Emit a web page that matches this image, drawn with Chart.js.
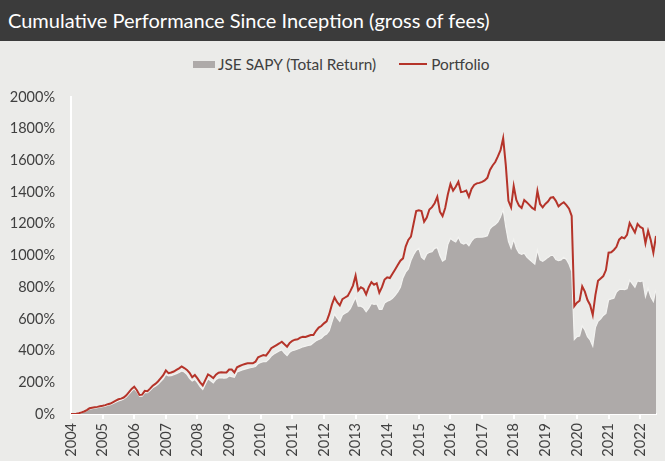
<!DOCTYPE html>
<html>
<head>
<meta charset="utf-8">
<script src="https://cdn.jsdelivr.net/npm/chart.js@4.4.1/dist/chart.umd.min.js"></script>
<style>
  body { margin: 0; width: 665px; height: 461px; background: #ebebe9; overflow: hidden; font-family: Lato, "Open Sans", sans-serif; }
  #title { position: absolute; left: 0; top: 0; width: 665px; height: 41px; background: #3b3b3b; color: #fff;
           font-size: 20px; line-height: 41px; padding-left: 8px; box-sizing: border-box; white-space: nowrap; }
  #legend { position: absolute; left: 193px; top: 55px; height: 18px; display: flex; align-items: center;
            font-size: 15.4px; color: #404040; white-space: nowrap; }
  #legend .box { width: 22px; height: 7px; background: #aeaaa9; margin-right: 3px; }
  #legend .line { width: 28px; height: 2px; background: #b5342a; margin-left: 23px; margin-right: 4px; }
  #wrap { position: absolute; left: 0; top: 41px; width: 665px; height: 420px; }
</style>
</head>
<body>
<div id="title">Cumulative Performance Since Inception (gross of fees)</div>
<div id="legend"></div>
<div id="wrap"><canvas id="chart"></canvas></div>
<script>
// monthly data, Jan 2004 .. Jul 2022, cumulative % return
const START_YEAR = 2004;
const yearTicks = [2004, 2005, 2006, 2007, 2008, 2009, 2010, 2011, 2012, 2013,
  2014, 2015, 2016, 2017, 2018, 2019, 2020, 2021, 2022];
const seriesNames = ["JSE SAPY (Total Return)", "Portfolio"];

const portfolio = [
  0, 0, 2, 5, 10, 16, 25, 36, 39, 42, 45, 49,                         // 2004
  52, 56, 62, 66, 75, 84, 93, 97, 104, 118, 138, 158,                 // 2005
  172, 150, 120, 122, 146, 144, 160, 178, 190, 205, 225, 245,         // 2006
  275, 258, 262, 268, 278, 288, 300, 290, 278, 260, 232, 246,         // 2007
  225, 200, 180, 215, 250, 240, 226, 248, 260, 263, 262, 262,         // 2008
  280, 280, 262, 295, 303, 310, 315, 320, 320, 320, 330, 358,         // 2009
  365, 372, 368, 390, 415, 425, 435, 445, 456, 440, 425, 448,         // 2010
  462, 469, 471, 482, 487, 486, 492, 498, 498, 525, 545, 555,         // 2011
  572, 585, 630, 690, 735, 705, 685, 725, 735, 745, 775, 810,         // 2012
  873, 780, 800, 790, 755, 800, 832, 815, 825, 765, 800, 848,         // 2013
  862, 858, 885, 912, 940, 967, 982, 1056, 1098, 1119, 1200, 1280,    // 2014
  1285, 1281, 1213, 1240, 1290, 1305, 1330, 1370, 1276, 1249, 1300, 1385, // 2015
  1451, 1409, 1434, 1465, 1400, 1403, 1410, 1370, 1420, 1445, 1455, 1458, // 2016
  1465, 1474, 1490, 1540, 1568, 1590, 1625, 1665, 1740, 1570, 1345, 1304, // 2017
  1438, 1350, 1315, 1300, 1350, 1335, 1318, 1300, 1290, 1407, 1325, 1304, // 2018
  1325, 1340, 1365, 1368, 1345, 1310, 1325, 1336, 1318, 1295, 1250, 680,  // 2019
  702, 715, 805, 772, 719, 688, 625, 750, 840, 855, 870, 908,         // 2020
  1018, 1020, 1035, 1055, 1100, 1115, 1108, 1130, 1205, 1175, 1145, 1199, // 2021
  1180, 1171, 1077, 1156, 1098, 1018, 1123                             // 2022
];

const sapy = [
  0, 0, 1, 4, 8, 13, 21, 31, 34, 37, 40, 43,                          // 2004
  46, 50, 55, 59, 67, 75, 83, 87, 94, 107, 125, 145,                  // 2005
  160, 140, 112, 112, 135, 135, 148, 165, 175, 188, 205, 222,         // 2006
  250, 240, 242, 248, 255, 262, 272, 265, 250, 225, 208, 218,         // 2007
  198, 172, 155, 190, 222, 210, 196, 218, 228, 230, 226, 228,         // 2008
  240, 236, 232, 265, 272, 278, 283, 288, 292, 295, 300, 318,         // 2009
  325, 330, 330, 345, 365, 378, 388, 398, 404, 385, 368, 390,         // 2010
  400, 404, 410, 416, 424, 428, 432, 436, 450, 462, 470, 478,         // 2011
  495, 505, 525, 580, 630, 605, 585, 625, 635, 645, 665, 700,         // 2012
  735, 680, 680, 670, 645, 668, 698, 692, 695, 660, 660, 700,         // 2013
  712, 718, 730, 748, 770, 800, 860, 895, 915, 968, 1005, 1032,       // 2014
  1045, 990, 975, 1010, 1020, 1024, 1045, 1050, 1000, 965, 975, 1070, // 2015
  1108, 1095, 1085, 1115, 1080, 1072, 1080, 1062, 1090, 1110, 1115, 1115, // 2016
  1116, 1119, 1125, 1168, 1185, 1195, 1212, 1245, 1290, 1180, 1090, 1045, // 2017
  1102, 1045, 1015, 1008, 1014, 990, 975, 960, 946, 1035, 972, 963,   // 2018
  975, 988, 1000, 1000, 975, 967, 972, 989, 975, 945, 900, 470,       // 2019
  488, 492, 555, 530, 488, 467, 429, 545, 585, 600, 622, 635,         // 2020
  719, 726, 730, 770, 785, 787, 785, 790, 845, 822, 800, 840,         // 2021
  835, 841, 740, 793, 740, 709, 787                                    // 2022
];

const FONT = "Lato, 'Open Sans', sans-serif";
const TEXT = "#404040";
const AREA = "#aeaaa9";
const RED = "#b5342a";

function toPoints(values) {
  return values.map((v, i) => ({ x: START_YEAR + i / 12, y: v }));
}

// legend, as plain html text
document.getElementById("legend").innerHTML =
  `<span class="box"></span><span>${seriesNames[0]}</span>` +
  `<span class="line"></span><span>${seriesNames[1]}</span>`;

const ctx = document.getElementById("chart");
new Chart(ctx, {
  type: "line",
  data: {
    datasets: [
      {
        label: seriesNames[0],
        data: toPoints(sapy),
        fill: "origin",
        backgroundColor: AREA,
        borderColor: "#f3f3f1",
        borderWidth: 1.2,
        pointRadius: 0,
        tension: 0,
        order: 2,
      },
      {
        label: seriesNames[1],
        data: toPoints(portfolio),
        fill: false,
        borderColor: RED,
        borderWidth: 2,
        pointRadius: 0,
        tension: 0,
        order: 1,
      },
    ],
  },
  options: {
    responsive: true,
    maintainAspectRatio: false,
    animation: false,
    layout: { padding: { top: 56, right: 9, left: 0, bottom: 0 } },
    plugins: {
      tooltip: { enabled: false },
      legend: { display: false },
    },
    scales: {
      x: {
        type: "linear",
        min: START_YEAR,
        max: START_YEAR + (portfolio.length - 1) / 12,
        afterBuildTicks: (s) => { s.ticks = yearTicks.map((v) => ({ value: v })); },
        afterFit: (s) => { s.height = 47; },
        ticks: {
          autoSkip: false,
          maxRotation: 90,
          minRotation: 90,
          padding: 4,
          color: TEXT,
          font: { family: FONT, size: 14.5 },
          callback: (v) => String(v),
        },
        grid: { display: true, drawOnChartArea: false, drawTicks: true, tickLength: 5, color: "#ffffff", lineWidth: 2 },
        border: { display: true, color: "#ffffff", width: 2 },
      },
      y: {
        min: 0,
        max: 2000,
        afterFit: (s) => { s.width = 71; },
        ticks: {
          stepSize: 200,
          padding: 16,
          color: TEXT,
          font: { family: FONT, size: 14.5 },
          callback: (v) => v + "%",
        },
        grid: { display: false, drawTicks: false },
        border: { display: true, color: "#ffffff", width: 2 },
      },
    },
  },
});
</script>
</body>
</html>
